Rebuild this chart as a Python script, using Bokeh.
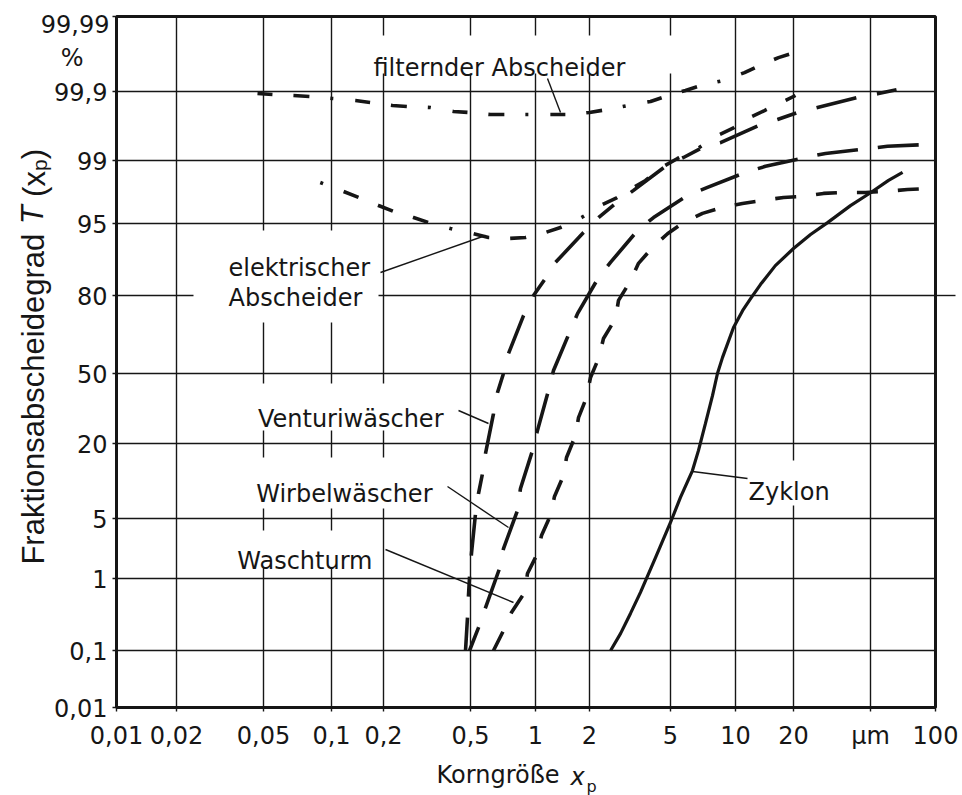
import numpy as np
from statistics import NormalDist
from bokeh.plotting import figure
from bokeh.models import Range1d, FixedTicker, Label, LinearAxis
from bokeh.embed import file_html
from bokeh.resources import INLINE

# ---------------- scale of the chart paper (grid positions, px from frame origin)
X_TICKS = [0.01, 0.02, 0.05, 0.1, 0.2, 0.5, 1, 2, 5, 10, 20, 50, 100]
X_TICK_LABELS = ["0,01", "0,02", "0,05", "0,1", "0,2", "0,5", "1", "2", "5", "10", "20", "µm", "100"]
X_TICK_POS = [0, 60, 147, 215, 267, 354, 419, 473, 554, 619, 677, 754, 819]

T_TICKS = [0.01, 0.1, 1, 5, 20, 50, 80, 95, 99, 99.9, 99.99]
T_TICK_LABELS = ["0,01", "0,1", "1", "5", "20", "50", "80", "95", "99", "99,9", ""]
T_TICK_POS = [0, 57, 129, 189, 264, 334, 412, 484, 547, 616, 691]

# ---------------- data: particle size x (µm) and grade efficiency T (%)
filter_x = [0.04693, 0.0548, 0.06788, 0.07989, 0.1, 0.1377, 0.1681, 0.2199, 0.2574, 0.3281,
            0.418, 0.4895, 0.6188, 0.7418, 0.938, 1.244, 1.527, 2.0, 2.453, 3.074,
            3.989, 4.726, 5.868, 6.96, 8.799, 11.14, 13.32, 16.72, 20.0]
filter_T = [99.892, 99.888, 99.884, 99.880, 99.871, 99.861, 99.850, 99.833, 99.827, 99.821,
            99.794, 99.787, 99.771, 99.771, 99.771, 99.771, 99.771, 99.787, 99.808, 99.833,
            99.856, 99.880, 99.903, 99.916, 99.927, 99.942, 99.953, 99.963, 99.968]

elektro_x = [0.0892, 0.1173, 0.1433, 0.1871, 0.2222, 0.2744, 0.3212, 0.405, 0.5108, 0.6058,
             0.7498, 0.899, 1.137, 1.378, 1.805, 2.265, 2.686, 3.217, 3.769, 4.62,
             5.388, 6.669, 8.253, 9.685, 11.82, 14.14, 17.75, 20.48]
elektro_T = [98.16, 97.68, 97.30, 96.71, 96.21, 95.63, 95.11, 94.40, 93.74, 93.17,
             93.02, 93.17, 93.88, 94.52, 95.63, 96.71, 97.23, 97.85, 98.26, 98.82,
             99.058, 99.30, 99.538, 99.633, 99.746, 99.801, 99.856, 99.884]

venturi_x = [0.4745, 0.4844, 0.4895, 0.4948, 0.5053, 0.5275, 0.5445, 0.5683, 0.5868, 0.639,
             0.6669, 0.7109, 0.7498, 0.88, 0.9789, 1.137, 1.293, 1.852, 2.214, 2.686,
             3.291, 4.726, 5.744, 7.034, 8.522, 13.16, 16.52, 20.97, 26.61, 42.83,
             54.45, 66.7]
venturi_T = [0.1, 0.307, 0.609, 1.03, 2.06, 5.57, 8.42, 12.24, 17.14, 31.5,
             40.97, 50.0, 58.5, 73.4, 80.0, 84.9, 88.7, 93.88, 95.63, 96.87,
             97.74, 98.82, 99.086, 99.325, 99.42, 99.667, 99.728, 99.786, 99.821, 99.875,
             99.892, 99.9055]

wirbel_x = [0.495, 0.5445, 0.587, 0.681, 0.711, 0.825, 0.852, 0.969, 1.026, 1.181,
            1.260, 1.547, 1.715, 2.214, 2.536, 3.443, 4.126, 5.995, 7.418, 11.27,
            14.31, 23.07, 29.27, 48.25, 59.95, 91.8]
wirbel_T = [0.1, 0.221, 0.421, 1.34, 2.35, 5.94, 9.28, 18.0, 24.7, 41.9,
            51.3, 67.1, 74.1, 85.1, 88.7, 94.14, 95.63, 97.43, 97.91, 98.60,
            98.82, 99.086, 99.19, 99.30, 99.35, 99.385]

wasch_x = [0.639, 0.711, 0.774, 0.891, 0.918, 1.026, 1.080, 1.212, 1.276, 1.433,
           1.489, 1.671, 1.737, 1.924, 2.023, 2.214, 2.343, 2.686, 2.777, 3.145,
           3.482, 4.080, 4.834, 5.744, 7.034, 8.706, 10.87, 13.81, 17.75, 22.53,
           28.58, 36.26, 47.1, 58.7, 74.2, 91.8]
wasch_T = [0.1, 0.200, 0.360, 0.666, 1.16, 2.06, 3.30, 5.34, 7.94, 11.8,
           16.07, 22.8, 29.8, 38.6, 48.1, 56.4, 64.7, 72.4, 78.5, 83.8,
           88.5, 91.6, 93.7, 95.1, 96.03, 96.55, 96.87, 97.09, 97.30, 97.37,
           97.56, 97.62, 97.62, 97.68, 97.79, 97.85]

zyklon_x = [2.54, 2.84, 3.18, 3.56, 4.22, 5.0, 5.56, 6.32, 6.74, 7.26,
            7.83, 8.25, 8.71, 9.79, 10.9, 12.0, 13.5, 16.1, 20.0, 24.5,
            30.0, 39.4, 50.0, 60.6, 70.4]
zyklon_T = [0.1, 0.18, 0.35, 0.67, 1.84, 4.55, 7.8, 12.9, 18.0, 27.4,
            39.6, 50.0, 56.9, 69.0, 75.2, 79.1, 83.3, 88.0, 91.4, 93.6,
            95.1, 96.7, 97.6, 98.26, 98.60]

# ---------------- scale transforms (log size axis, probability axis)
ND = NormalDist()
_lx = np.log10(X_TICKS)
_zt = np.array([ND.inv_cdf(t / 100.0) for t in T_TICKS])


def xs(v):
    return list(np.interp(np.log10(np.asarray(v, dtype=float)), _lx, X_TICK_POS))


def ys(t):
    z = np.array([ND.inv_cdf(v / 100.0) for v in t])
    return list(np.interp(z, _zt, T_TICK_POS))


INK = "#161616"
FONT = "DejaVu Sans"
FS = "24px"
YF = "Liberation Sans"

p = figure(frame_width=819, frame_height=691,
           x_range=Range1d(0, 819), y_range=Range1d(0, 691),
           output_backend="svg", toolbar_location=None,
           min_border_left=116, min_border_right=27,
           min_border_top=16, min_border_bottom=88)
p.background_fill_color = "white"
p.border_fill_color = "white"
p.outline_line_color = INK
p.outline_line_width = 3

# grid
p.xgrid.ticker = FixedTicker(ticks=X_TICK_POS)
p.ygrid.ticker = FixedTicker(ticks=T_TICK_POS)
for g in (p.xgrid, p.ygrid):
    g.grid_line_color = INK
    g.grid_line_width = 1.4
    g.grid_line_alpha = 1.0

# main axes
p.xaxis.ticker = FixedTicker(ticks=X_TICK_POS, minor_ticks=[])
p.xaxis.major_label_overrides = {pos: lab for pos, lab in zip(X_TICK_POS, X_TICK_LABELS)}
p.yaxis.ticker = FixedTicker(ticks=T_TICK_POS, minor_ticks=[])
p.yaxis.major_label_overrides = {pos: lab for pos, lab in zip(T_TICK_POS, T_TICK_LABELS)}
for ax in (p.xaxis, p.yaxis):
    ax.axis_line_color = None
    ax.major_tick_line_color = INK
    ax.major_tick_line_width = 1.4
    ax.major_tick_in = 0
    ax.major_tick_out = 4
    ax.minor_tick_line_color = None
    ax.major_label_text_font = FONT
    ax.major_label_text_font_size = FS
    ax.major_label_text_color = INK
p.xaxis.major_label_standoff = 10
p.yaxis.major_label_standoff = 5


def text_axis(side, ticks, labels, size=FS, font=FONT, style="normal", standoff=0,
              orientation="horizontal"):
    ax = LinearAxis(ticker=FixedTicker(ticks=ticks, minor_ticks=[]),
                    major_label_overrides=dict(zip(ticks, labels)),
                    axis_line_color=None, major_tick_line_color=None,
                    minor_tick_line_color=None, major_tick_in=0, major_tick_out=0,
                    minor_tick_in=0, minor_tick_out=0,
                    major_label_standoff=standoff,
                    major_label_orientation=orientation,
                    major_label_text_font=font, major_label_text_font_size=size,
                    major_label_text_font_style=style, major_label_text_color=INK)
    p.add_layout(ax, side)
    return ax


# left side: rotated title Fraktionsabscheidegrad T (x_p), then "99,99" and "%"
text_axis("left", [308.3, 523.5, 553.3], ["Fraktionsabscheidegrad", "(x", ")"],
          size="31px", font=YF, standoff=0, orientation="parallel")
text_axis("left", [492.6], ["T"], size="31px", font=YF, style="italic",
          standoff=-37, orientation="parallel")
text_axis("left", [542.3], ["p"], size="21px", font=YF, standoff=-39,
          orientation="parallel")
text_axis("left", [683.5], ["99,99"], standoff=-97)
text_axis("left", [649.5], ["%"], standoff=-71)

# bottom: title Korngröße x_p
text_axis("below", [381.6], ["Korngröße"], standoff=8)
text_axis("below", [461.0], ["x"], style="italic", standoff=-29)
text_axis("below", [475.0], ["p"], size="16px", standoff=-17)

# right: the 80 % line runs a little beyond the frame
ext = LinearAxis(ticker=FixedTicker(ticks=[412], minor_ticks=[]),
                 major_label_overrides={412: ""}, axis_line_color=None,
                 major_tick_line_color=INK, major_tick_line_width=1.4,
                 major_tick_in=0, major_tick_out=20, minor_tick_line_color=None,
                 major_label_standoff=0, major_label_text_font_size="1px")
p.add_layout(ext, "right")

# white boxes behind annotation texts (they interrupt the grid)
box_l = [246, 77, 124, 122, 106, 624]
box_r = [560, 262, 336, 324, 264, 724]
box_b = [634, 385, 277, 199, 140, 202]
box_t = [672, 477, 324, 250, 177, 247]
p.quad(left=box_l, right=box_r, bottom=box_b, top=box_t,
       fill_color="white", line_color=None)

# curves
p.line(xs(filter_x), ys(filter_T), line_color=INK, line_width=3.6,
       line_dash="15 21 16 21 3 22", line_cap="butt")
p.line(xs(elektro_x), ys(elektro_T), line_color=INK, line_width=3.6,
       line_dash="3 22 16 21 16 21 16 22", line_cap="butt")
p.line(xs(venturi_x), ys(venturi_T), line_color=INK, line_width=3.6,
       line_dash="41 21 20 21", line_dash_offset=8, line_cap="butt")
p.line(xs(wirbel_x), ys(wirbel_T), line_color=INK, line_width=3.6,
       line_dash="41 20", line_dash_offset=16, line_cap="butt")
p.line(xs(wasch_x), ys(wasch_T), line_color=INK, line_width=3.6,
       line_dash="21 20", line_cap="butt")
p.line(xs(zyklon_x), ys(zyklon_T), line_color=INK, line_width=3.2)

# leader lines
p.segment(x0=[431, 264, 342, 331, 269, 631], y0=[629, 435, 297, 221, 158, 229],
          x1=[444, 369, 372, 392, 397, 576], y1=[595, 472, 284, 180, 105, 236],
          line_color=INK, line_width=1.4)


def lab(x, y, text, align="left"):
    p.add_layout(Label(x=x, y=y, text=text, text_align=align, text_baseline="alphabetic",
                       text_font=FONT, text_font_size=FS, text_color=INK))


lab(257, 640, "filternder Abscheider")
lab(112, 440, "elektrischer")
lab(112, 410, "Abscheider")
lab(327, 289, "Venturiwäscher", align="right")
lab(316, 214, "Wirbelwäscher", align="right")
lab(256, 147, "Waschturm", align="right")
lab(632, 216, "Zyklon")

open("out.html", "w").write(file_html(p, INLINE))
